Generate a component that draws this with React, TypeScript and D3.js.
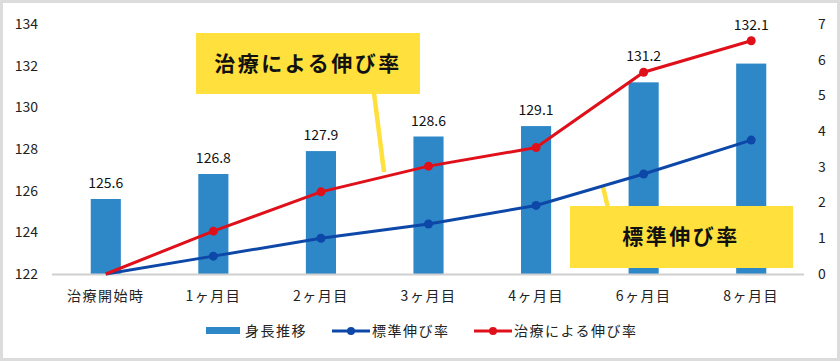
import React from "react";
import * as d3 from "d3";

const categories = ["治療開始時", "1ヶ月目", "2ヶ月目", "3ヶ月目", "4ヶ月目", "6ヶ月目", "8ヶ月目"];
const heightValues = [125.6, 126.8, 127.9, 128.6, 129.1, 131.2, 132.1];
const standardRate = [0, 0.5, 1.0, 1.4, 1.92, 2.8, 3.75];
const treatmentRate = [0, 1.2, 2.3, 3.02, 3.54, 5.65, 6.53];
const leftTicks = [122, 124, 126, 128, 130, 132, 134];
const rightTicks = [0, 1, 2, 3, 4, 5, 6, 7];
const seriesNames = ["身長推移", "標準伸び率", "治療による伸び率"];

const W = 840;
const H = 361;
const BAR = "#2E88C8";
const BLUE = "#0D47A8";
const RED = "#E0101A";
const YELLOW = "#FFE03C";
const FONT = "'Noto Sans CJK JP', 'Noto Sans', sans-serif";

export default function App() {
  const x = d3.scaleBand<string>().domain(categories).range([52, 805]).padding(0);
  const cx = (c: string) => (x(c) ?? 0) + x.bandwidth() / 2;
  const yL = d3.scaleLinear().domain([122, 134]).range([274, 24]);
  const yR = d3.scaleLinear().domain([0, 7]).range([274, 24]);
  const bw = x.bandwidth() * 0.28;

  const line = d3
    .line<number>()
    .x((_, i) => cx(categories[i]))
    .y((d) => yR(d));

  return (
    <svg
      width={W}
      height={H}
      style={{ position: "absolute", left: 0, top: 0, fontFamily: FONT }}
    >
      <rect x={0} y={0} width={W} height={H} fill="#ffffff" />
      <rect x={1.5} y={1.5} width={W - 3} height={H - 3} fill="none" stroke="#dcdcdc" strokeWidth={3} />

      {/* left ticks */}
      {leftTicks.map((t) => (
        <text key={"l" + t} x={38} y={yL(t)} dy="0.35em" textAnchor="end" fontSize={14} fill="#222">
          {t}
        </text>
      ))}
      {rightTicks.map((t) => (
        <text key={"r" + t} x={818} y={yR(t)} dy="0.35em" textAnchor="start" fontSize={14} fill="#222">
          {t}
        </text>
      ))}

      {/* bars */}
      {heightValues.map((v, i) => (
        <rect
          key={"b" + i}
          x={cx(categories[i]) - bw / 2}
          y={yL(v)}
          width={bw}
          height={yL(122) - yL(v)}
          fill={BAR}
        />
      ))}

      {/* axis line */}
      <line x1={52} x2={804} y1={yL(122) + 0.5} y2={yL(122) + 0.5} stroke="#cfcfcf" strokeWidth={2} />

      {/* category labels */}
      {categories.map((c) => (
        <text key={"c" + c} x={cx(c)} y={296} dy="0.35em" textAnchor="middle" fontSize={14} letterSpacing={1.5} fill="#222">
          {c}
        </text>
      ))}

      {/* callout pointers */}
      <line x1={374} y1={93} x2={384} y2={172} stroke={YELLOW} strokeWidth={4.5} />
      <line x1={603} y1={187} x2={608} y2={208} stroke={YELLOW} strokeWidth={4.5} />

      {/* lines */}
      <path d={line(standardRate) ?? ""} fill="none" stroke={BLUE} strokeWidth={3} />
      <path d={line(treatmentRate) ?? ""} fill="none" stroke={RED} strokeWidth={3} />
      {standardRate.map((v, i) =>
        i === 0 ? null : <circle key={"sb" + i} cx={cx(categories[i])} cy={yR(v)} r={4.5} fill={BLUE} />
      )}
      {treatmentRate.map((v, i) =>
        i === 0 ? null : <circle key={"sr" + i} cx={cx(categories[i])} cy={yR(v)} r={4.5} fill={RED} />
      )}

      {/* bar value labels */}
      {heightValues.map((v, i) => {
        const top = Math.min(yL(v), yR(treatmentRate[i]));
        return (
          <text key={"v" + i} x={cx(categories[i])} y={top - 11} textAnchor="middle" fontSize={14} fill="#111">
            {v.toFixed(1)}
          </text>
        );
      })}

      {/* callout boxes */}
      <rect x={196} y={33} width={224} height={61} fill={YELLOW} />
      <text x={308} y={64} dy="0.35em" textAnchor="middle" fontSize={21} fontWeight="bold" letterSpacing={2.5} fill="#111">
        {seriesNames[2]}
      </text>
      <rect x={570} y={206} width={223} height={62} fill={YELLOW} />
      <text x={681} y={237} dy="0.35em" textAnchor="middle" fontSize={21} fontWeight="bold" letterSpacing={2.5} fill="#111">
        {seriesNames[1]}
      </text>

      {/* legend */}
      <g fontSize={14} fill="#222" letterSpacing={1.5}>
        <rect x={206} y={327} width={34} height={7} fill={BAR} />
        <text x={245} y={331} dy="0.35em">{seriesNames[0]}</text>
        <line x1={332} x2={370} y1={331} y2={331} stroke={BLUE} strokeWidth={3} />
        <circle cx={351} cy={331} r={4} fill={BLUE} />
        <text x={372} y={331} dy="0.35em">{seriesNames[1]}</text>
        <line x1={474} x2={512} y1={331} y2={331} stroke={RED} strokeWidth={3} />
        <circle cx={493} cy={331} r={4} fill={RED} />
        <text x={514} y={331} dy="0.35em">{seriesNames[2]}</text>
      </g>
    </svg>
  );
}
